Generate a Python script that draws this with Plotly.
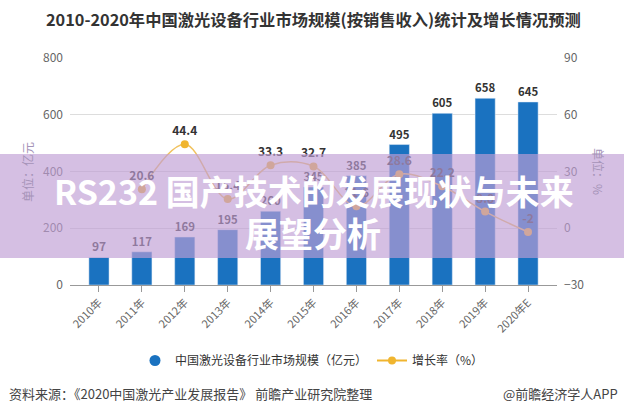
import plotly.graph_objects as go

years = ["2010年", "2011年", "2012年", "2013年", "2014年", "2015年",
         "2016年", "2017年", "2018年", "2019年", "2020年E"]
market_size = [97, 117, 169, 195, 260, 345, 385, 495, 605, 658, 645]
growth_years = years[1:]
growth_rate = [20.6, 44.4, 15.4, 33.3, 32.7, 11.6, 28.6, 22.2, 8.8, -2]

FONT = "Noto Sans CJK SC, Microsoft YaHei, sans-serif"
BAR_BLUE = "#1a72c0"
LINE_GOLD = "#f0b52f"

# plot area in pixels, used to place paper-referenced annotations
W, H = 624, 413
PX_L, PX_R, PX_T, PX_B = 70, 557, 58, 285


def px(x):
    return (x - PX_L) / (PX_R - PX_L)


def py(y):
    return (PX_B - y) / (PX_B - PX_T)


def note(text, x, y, size, color, xanchor="center", angle=0):
    return dict(
        text=text, xref="paper", yref="paper", x=px(x), y=py(y),
        xanchor=xanchor, yanchor="middle", textangle=angle,
        showarrow=False, font=dict(size=size, color=color),
    )


fig = go.Figure()
fig.add_trace(
    go.Bar(
        x=years,
        y=market_size,
        marker_color=BAR_BLUE,
        width=0.47,
        text=[f"<b>{v}</b>" for v in market_size],
        textposition="outside",
        textfont=dict(size=12, color="#333333"),
        cliponaxis=False,
        showlegend=False,
        name="中国激光设备行业市场规模（亿元）",
    )
)
fig.add_trace(
    go.Scatter(
        x=growth_years,
        y=growth_rate,
        yaxis="y2",
        mode="lines+markers+text",
        line=dict(color="#f1c25e", width=1.5, shape="spline"),
        marker=dict(size=8, color=LINE_GOLD),
        text=[f"<b>{v:g}</b>" for v in growth_rate],
        textposition="top center",
        textfont=dict(size=12, color="#333333"),
        cliponaxis=False,
        name="增长率（%）",
        showlegend=False,
    )
)
# legend entries styled like the original (round dot / line with marker)
fig.add_trace(
    go.Scatter(x=[None], y=[None], mode="markers",
               marker=dict(size=11, color=BAR_BLUE),
               name="中国激光设备行业市场规模（亿元）")
)
fig.add_trace(
    go.Scatter(x=[None], y=[None], mode="lines+markers",
               line=dict(color=LINE_GOLD, width=2),
               marker=dict(size=8, color=LINE_GOLD),
               name="增长率（%）")
)

fig.update_layout(
    width=W,
    height=H,
    margin=dict(l=PX_L, r=W - PX_R, t=PX_T, b=H - PX_B),
    paper_bgcolor="white",
    plot_bgcolor="white",
    font=dict(family=FONT, color="#666666", size=12),
    xaxis=dict(
        type="category",
        range=[-0.675, 10.675],
        tickangle=-45,
        tickfont=dict(size=11, color="#666666"),
        showline=True,
        linecolor="#999999",
        ticks="outside",
        ticklen=6,
        tickcolor="#999999",
        showgrid=False,
    ),
    yaxis=dict(
        range=[0, 800],
        dtick=200,
        gridcolor="#dddddd",
        zeroline=False,
        tickfont=dict(size=12, color="#666666"),
        ticklabelstandoff=6,
    ),
    yaxis2=dict(
        range=[-30, 90],
        dtick=30,
        overlaying="y",
        side="right",
        showgrid=False,
        zeroline=False,
        tickfont=dict(size=12, color="#666666"),
        ticklabelstandoff=6,
    ),
    legend=dict(
        orientation="h",
        x=px(312),
        xanchor="center",
        y=py(346),
        yanchor="top",
        font=dict(size=12, color="#333333"),
        itemwidth=30,
    ),
    shapes=[
        dict(
            type="rect",
            xref="paper",
            yref="paper",
            x0=px(0),
            x1=px(W),
            y0=py(258),
            y1=py(154),
            fillcolor="rgba(191,158,212,0.66)",
            line=dict(width=0),
            layer="above",
        )
    ],
    annotations=[
        note("<b>2010-2020年中国激光设备行业市场规模(按销售收入)统计及增长情况预测</b>",
             313, 19, 16.3, "#333333"),
        note("单位：亿元", 27, 172, 12, "#a593b8", angle=-90),
        note("单位：%", 599, 171, 12, "#a593b8", angle=90),
        note("<b>RS232 国产技术的发展现状与未来</b>", 314, 190, 34, "white"),
        note("<b>展望分析</b>", 313, 232, 34, "white"),
        note("资料来源：《2020中国激光产业发展报告》 前瞻产业研究院整理",
             7, 393, 13, "#444444", xanchor="left"),
        note("@前瞻经济学人APP", 620, 393, 13, "#444444", xanchor="right"),
    ],
)

fig.write_html(
    "out.html",
    config={"displayModeBar": False},
    post_script="document.body.style.margin='0';",
)
